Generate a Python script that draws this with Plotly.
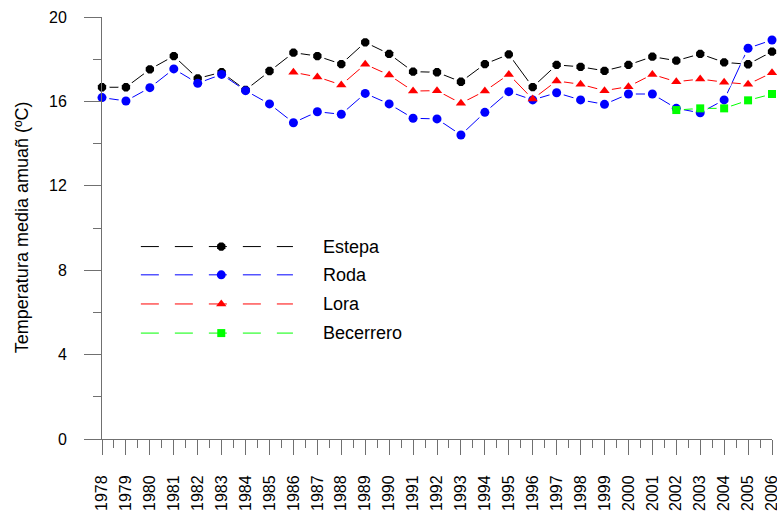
import plotly.graph_objects as go

# Annual mean temperature (ºC) per site
years = list(range(1978, 2007))

estepa = [16.67, 16.67, 17.52, 18.15, 17.09, 17.38, 16.54, 17.44, 18.31, 18.15,
          17.77, 18.80, 18.25, 17.41, 17.38, 16.93, 17.77, 18.23, 16.68, 17.73,
          17.64, 17.45, 17.73, 18.12, 17.93, 18.25, 17.85, 17.76, 18.36]

roda = [16.18, 16.02, 16.65, 17.54, 16.86, 17.28, 16.51, 15.88, 14.99, 15.51,
        15.39, 16.38, 15.88, 15.20, 15.17, 14.41, 15.48, 16.46, 16.07, 16.41,
        16.07, 15.86, 16.35, 16.35, 15.67, 15.46, 16.07, 18.52, 18.91]

lora_years = list(range(1986, 2007))
lora = [17.38, 17.16, 16.78, 17.76, 17.25, 16.49, 16.51, 15.91, 16.49, 17.28,
        16.11, 16.97, 16.81, 16.51, 16.70, 17.28, 16.93, 17.06, 16.91, 16.81,
        17.36]

becerrero_years = list(range(2002, 2007))
becerrero = [15.59, 15.67, 15.67, 16.05, 16.35]

y_ticks = [0, 4, 8, 12, 16, 20]

series = [
    ("Estepa", years, estepa, "#000000", "octagon", 9),
    ("Roda", years, roda, "#0000FF", "circle", 9),
    ("Lora", lora_years, lora, "#FF0000", "triangle-up", 9),
    ("Becerrero", becerrero_years, becerrero, "#00FF00", "square", 8),
]

FONT = "Liberation Sans, Arial, sans-serif"

fig = go.Figure()

# connecting lines
for name, xs, ys, col, sym, sz in series:
    fig.add_trace(go.Scatter(x=xs, y=ys, mode="lines", showlegend=False,
                             line=dict(color=col, width=1), cliponaxis=False,
                             hoverinfo="skip"))
# white halos so lines stop short of the markers
for name, xs, ys, col, sym, sz in series:
    fig.add_trace(go.Scatter(x=xs, y=ys, mode="markers", showlegend=False,
                             marker=dict(symbol="circle", size=15, color="white"),
                             cliponaxis=False, hoverinfo="skip"))
# markers
for name, xs, ys, col, sym, sz in series:
    fig.add_trace(go.Scatter(x=xs, y=ys, mode="markers", name=name, showlegend=False,
                             marker=dict(symbol=sym, size=sz, color=col),
                             cliponaxis=False))

# in-plot key drawn on an overlay axis in fractional units
key_rows = [0.456, 0.389, 0.320, 0.251]
for (name, xs, ys, col, sym, sz), ry in zip(series, key_rows):
    fig.add_trace(go.Scatter(x=[0.058, 0.285], y=[ry, ry], mode="lines",
                             xaxis="x2", yaxis="y2", showlegend=False,
                             line=dict(color=col, width=1, dash="18px,16px"),
                             hoverinfo="skip"))
    fig.add_trace(go.Scatter(x=[0.178], y=[ry], mode="markers",
                             xaxis="x2", yaxis="y2", showlegend=False,
                             marker=dict(symbol=sym, size=sz, color=col),
                             hoverinfo="skip"))
    fig.add_annotation(x=0.327, y=ry, xref="x2", yref="y2", text=name,
                       showarrow=False, xanchor="left", yanchor="middle",
                       font=dict(family=FONT, size=18, color="#000"))

fig.add_annotation(x=-0.1194, y=0.502, xref="paper", yref="paper",
                   text="Temperatura media amuañ (ºC)", textangle=-90,
                   showarrow=False, xanchor="center", yanchor="middle",
                   font=dict(family=FONT, size=18, color="#000"))

axis_col = "#707070"
fig.update_layout(
    width=777, height=511,
    margin=dict(l=102, r=5, t=17, b=72, autoexpand=False),
    paper_bgcolor="white", plot_bgcolor="white",
    font=dict(family=FONT, size=16, color="#000"),
    xaxis=dict(range=[1978, 2006], tickmode="array", tickvals=years,
               ticktext=[str(y) for y in years], tickangle=-90,
               ticks="outside", ticklen=15, tickcolor=axis_col, tickwidth=1,
               minor=dict(dtick=0.5, tick0=1978, ticks="outside", ticklen=8,
                          tickcolor=axis_col, showgrid=False),
               showline=True, linecolor=axis_col, linewidth=1,
               showgrid=False, zeroline=False, ticklabelstandoff=14,
               automargin=False, ticklabeloverflow="allow",
               tickfont=dict(family=FONT, size=16, color="#000")),
    yaxis=dict(range=[0, 20], tickmode="array", tickvals=y_ticks,
               ticks="outside", ticklen=17, tickcolor=axis_col, tickwidth=1,
               minor=dict(dtick=2, tick0=0, ticks="outside", ticklen=8,
                          tickcolor=axis_col, showgrid=False),
               showline=True, linecolor=axis_col, linewidth=1,
               showgrid=False, zeroline=False, ticklabelstandoff=14,
               automargin=False, ticklabeloverflow="allow",
               tickfont=dict(family=FONT, size=16, color="#000")),
    xaxis2=dict(range=[0, 1], overlaying="x", visible=False),
    yaxis2=dict(range=[0, 1], overlaying="y", visible=False),
    showlegend=False,
)

fig.write_html("out.html")
